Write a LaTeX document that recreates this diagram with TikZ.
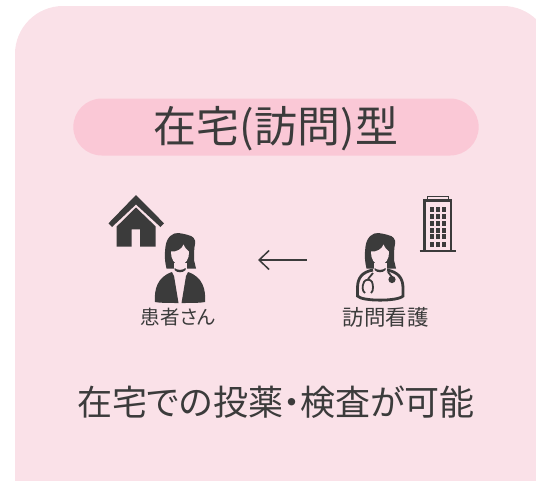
\documentclass[tikz,border=0pt]{standalone}
\usepackage{fontspec}
\setmainfont{Noto Sans CJK JP}[RawFeature=+palt]
\usepackage{tikz}
\usetikzlibrary{arrows.meta, positioning, shapes.misc}
\definecolor{cardpink}{HTML}{FAE1E8}
\definecolor{pillpink}{HTML}{FAC8D6}
\definecolor{icondark}{HTML}{3B3B3B}
\tikzset{
	bigtext/.style={inner sep=0pt, text=icondark, font=\fontsize{35}{35}\selectfont},
	titletext/.style={inner sep=0pt, text=icondark, font=\fontsize{43}{43}\selectfont},
	smalltext/.style={inner sep=0pt, text=icondark, font=\fontsize{19.5}{19.5}\selectfont},
	widetext/.style={inner sep=0pt, text=icondark, font=\fontsize{21.5}{21.5}\selectfont},
	pillbox/.style={rounded rectangle, fill=pillpink, minimum width=412pt, minimum height=57pt},
	thinarrow/.style={line width=1.5pt, color=icondark, -{Straight Barb[length=10pt, width=19pt, line width=1.5pt]}},
	pics/womanhead/.style={code={
		% Hair
		\fill[icondark] (-13.5,13.5) .. controls (-15.5,5) and (-15.5,0) .. (-14.5,-8.3) .. controls (-13.5,-18) and (-7,-22.5) .. (-1.7,-22) .. controls (2,-22) and (5,-20.5) .. (8,-20) .. controls (13,-19) and (16,-16) .. (15,-11) .. controls (14,-7) and (14,0) .. (14,5) -- (16,13.5) -- (8,13.5) -- cycle;
		% Face
		\fill[cardpink] (-9,-3.5) .. controls (-3,-3) and (2,-6) .. (3.5,-10.5) .. controls (5,-7) and (7,-5) .. (9,-3.5) .. controls (9.5,3.5) and (5.5,10) .. (0,10) .. controls (-5.5,10) and (-9.5,3.5) .. (-9,-3.5) -- cycle;
		% Neck
		\fill[cardpink] (-6.5,8) rectangle (6.5,15.5);
		\fill[icondark] (-5.5,13) .. controls (-3,15.5) and (3,15.5) .. (5.5,13) -- (5.5,15) .. controls (3,18) and (-3,18) .. (-5.5,15) -- cycle;
	}}
}

\begin{document}
\begin{tikzpicture}[x=1pt, y=-1pt]
	\useasboundingbox (0,0) rectangle (536,480);
	\clip (0,0) rectangle (536,480);
	
	% Card
	\fill[cardpink, rounded corners=48pt] (15,6) rectangle (551,540);
	
	% Title
	\node[pillbox] (titlepill) at (276,127) {};
	\node[titletext] (title) at (276,128.5) {在宅(訪問)型};
	
	% House
	\fill[icondark] (136,195) -- (164,223.3) -- (160.5,227) -- (136,204.5) -- (112,227) -- (108.5,223.3) -- cycle;
	\fill[icondark] (136,207.5) -- (155.7,226.5) -- (155.7,246.7) -- (140,246.7) -- (140,229.3) -- (131.7,229.3) -- (131.7,246.7) -- (116.7,246.7) -- (116.7,226.5) -- cycle;
	
	% Patient
	\fill[icondark] (155,302) .. controls (154,290) and (157,277) .. (172,272) -- (174,276) -- (178.5,303) .. controls (170,303) and (160,303) .. (155,302) -- cycle;
	\fill[icondark] (205,302) .. controls (206,290) and (203,277) .. (188,272) -- (186,276) -- (181.5,303) .. controls (190,303) and (200,303) .. (205,302) -- cycle;
	\pic at (180,255) {womanhead};
	\node[smalltext] (patient) at (178,317) {患者さん};
	
	% Nurse
	\draw[icondark, line width=2.8pt] (373,270) .. controls (362,272) and (357.5,278) .. (357.5,288) -- (357.5,296) .. controls (362,301.5) and (398,301.5) .. (403,296) -- (403,288) .. controls (403,278) and (398,272) .. (387,270);
	\draw[icondark, line width=1.8pt] (373,273) -- (368,279);
	\draw[icondark, line width=1.8pt] (371,293) .. controls (374,291) and (373,284) .. (372,282) .. controls (371,279) and (365,279) .. (364,282) .. controls (362,286) and (362,291) .. (365,293);
	\draw[icondark, line width=1.8pt] (388,272) -- (392,277);
	\fill[icondark] (392,279.5) circle (3.6);
	\pic at (380,255) {womanhead};
	\node[widetext] (nurse) at (385.5,317) {訪問看護};
	
	% Building
	\draw[icondark, line width=1.8pt] (427.5,200) -- (427.5,196.5) -- (448.5,196.5) -- (448.5,200);
	\draw[icondark, line width=2.2pt] (424.5,250) -- (424.5,200.5) -- (451,200.5) -- (451,250);
	\draw[icondark, line width=2.4pt] (419.5,251) -- (456,251);
	\foreach \row in {209.3,216.2,223,230,236.7,244}
		\foreach \col in {431.7,437.7,444}
			\fill[icondark] (\col-2,\row-2.5) rectangle (\col+2,\row+2.5);
	
	% Arrow
	\coordinate (nursearrow) at (306.5,260);
	\coordinate (patientarrow) at (258,260);
	\draw[thinarrow] (nursearrow) -- (patientarrow);
	
	% Caption
	\node[bigtext] (caption) at (276,402.5) {在宅での投薬・検査が可能};
\end{tikzpicture}
\end{document}
